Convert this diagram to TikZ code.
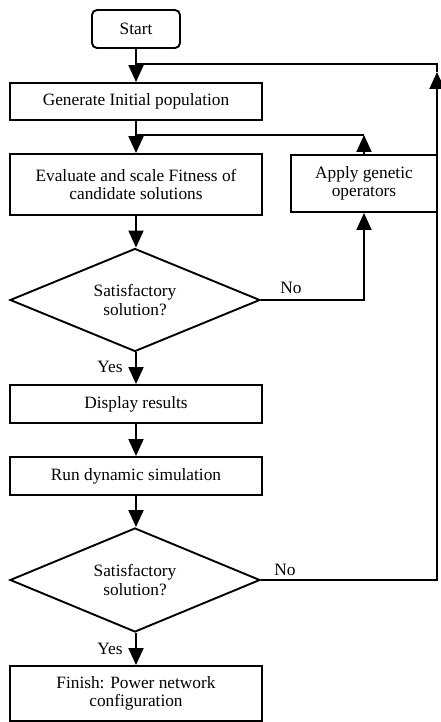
\documentclass[tikz,border=0pt]{standalone}
\usepackage{fontspec}
\setmainfont{Liberation Serif}
\usetikzlibrary{shapes.geometric,arrows.meta}
\begin{document}
\begin{tikzpicture}[x=1pt,y=-1pt,
  line width=1.9pt,
  txt/.style={font=\fontsize{17.3}{18.5}\selectfont},
  box/.style={draw,rectangle,inner sep=0pt,align=center,txt},
  dec/.style={draw,diamond,aspect=2.4,inner sep=0pt,align=center,txt,minimum width=250pt,minimum height=103pt},
  lbl/.style={inner sep=0pt,txt},
  arr/.style={-{Triangle[width=15pt,length=17pt]}}]
\useasboundingbox (0,0) rectangle (441,722);
\node[box,rounded corners=5pt,minimum width=88pt,minimum height=38pt] (start) at (136,29) {Start};
\node[box,minimum width=252pt,minimum height=37pt] (gen) at (136,101.5) {Generate Initial population};
\node[box,minimum width=252pt,minimum height=61pt] (eval) at (136,184.5) {Evaluate and scale Fitness of\\candidate solutions};
\node[box,minimum width=146pt,minimum height=57pt] (apply) at (364,183.5) {Apply genetic\\operators};
\node[dec] (d1) at (135,300) {Satisfactory\\solution?};
\node[box,minimum width=252pt,minimum height=38pt] (disp) at (136,404) {Display results};
\node[box,minimum width=252pt,minimum height=38pt] (run) at (136,476) {Run dynamic simulation};
\node[dec,minimum height=104pt] (d2) at (135,580) {Satisfactory\\solution?};
\node[box,minimum width=252pt,minimum height=55pt] (fin) at (136,693.5) {Finish: Power network\\configuration};
\coordinate (j1) at (136,64);
\coordinate (r1) at (437,64);
\coordinate (r2) at (437,72);
\coordinate (j2) at (136,135);
\node[lbl] (no1) at (291,288) {No};
\node[lbl] (no2) at (285,570) {No};
\node[lbl] (yes1) at (110,367) {Yes};
\node[lbl] (yes2) at (110,649) {Yes};
\draw[arr] (start) -- (gen);
\draw[arr] (gen) -- (eval);
\draw[arr] (eval) -- (d1.north -| eval);
\draw[arr] (d1.south -| disp) -- (disp);
\draw[arr] (disp) -- (run);
\draw[arr] (run) -- (d2.north -| run);
\draw[arr] (d2.south -| fin) -- (fin);
\draw[arr] (d1.east) -| (apply.south);
\draw[arr] (apply.north) -- (apply.north |- j2);
\draw (apply.north |- j2) -- (j2);
\draw[arr] (d2.east) -| (r2);
\draw (r2) -- (r1) -- (j1);
\end{tikzpicture}
\end{document}
